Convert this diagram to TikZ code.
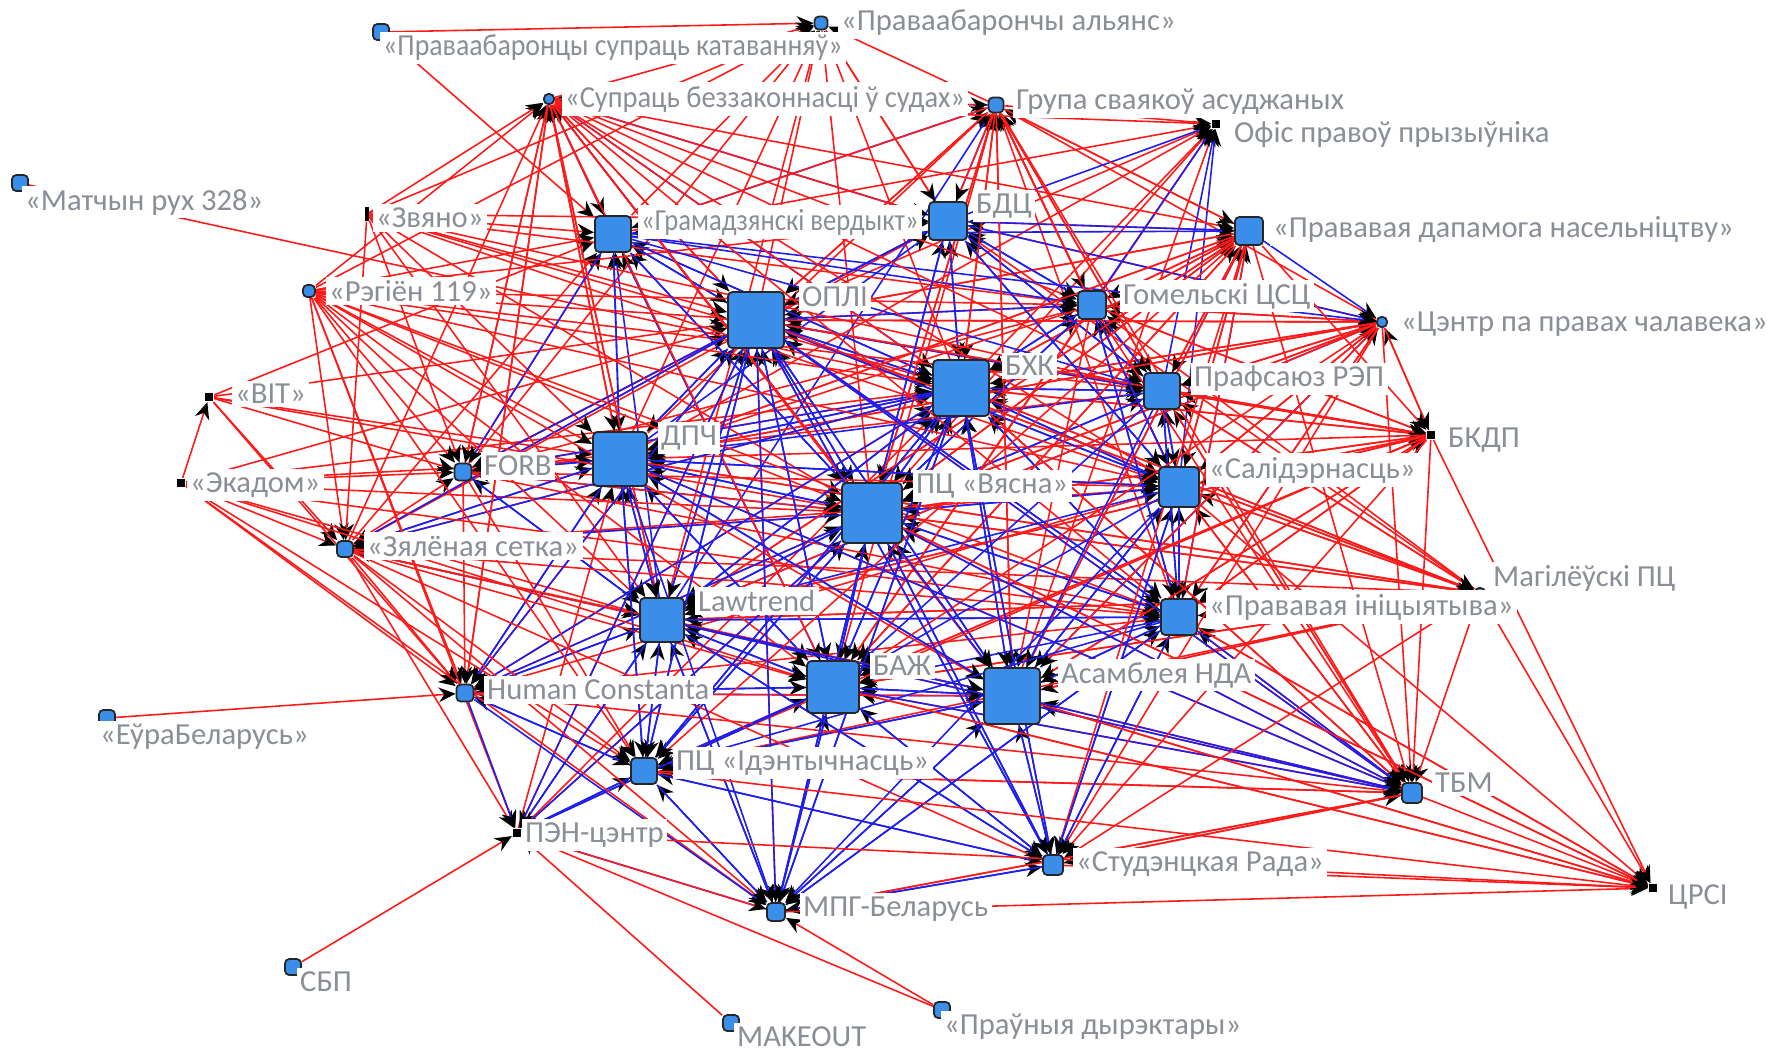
\documentclass[tikz,border=0pt]{standalone}
\usepackage{graphicx}
\usepackage{fontspec}
\setmainfont{Carlito}
\usetikzlibrary{arrows.meta, positioning, calc}
\pgfdeclarelayer{edges}
\pgfsetlayers{edges,main}
\definecolor{nodeblue}{HTML}{3A8DE8}
\definecolor{lblgray}{HTML}{8A8E96}
\definecolor{tiered}{HTML}{FF1A1A}
\definecolor{tieblue}{HTML}{1E1EEE}

\begin{document}
\begin{tikzpicture}[
    org/.style={draw=black!85, fill=nodeblue, rounded corners=1.2pt, inner sep=0pt, line width=0.5pt},
    dot/.style={fill=black, inner sep=0pt, minimum size=2.5pt},
    lbl/.style={fill=white, text=lblgray, inner sep=1pt, anchor=west, font=\fontsize{8.7}{10}\selectfont},
    rtie/.style={tiered, line width=0.45pt, -{Stealth[black, length=4.8pt, width=4.2pt]}},
    btie/.style={tieblue, line width=0.45pt, -{Stealth[black, length=4.8pt, width=4.2pt]}},
]
\useasboundingbox (0,0) rectangle (17.69,-10.55);

% ── Organisations ──
\node[org, minimum size=0.13cm] (alyans) at (8.21,-0.23) {};
\node[org, minimum size=0.16cm] (katav) at (3.81,-0.32) {};
\node[org, minimum size=0.10cm] (sudah) at (5.49,-0.99) {};
\node[org, minimum size=0.15cm] (grupa) at (9.96,-1.05) {};
\node[dot] (ofis) at (12.16,-1.24) {};
\node[org, minimum size=0.16cm] (matchyn) at (0.20,-1.83) {};
\node[dot, minimum width=1pt, minimum height=4pt] (zvyano) at (3.67,-2.14) {};
\node[org, minimum size=0.36cm] (verdykt) at (6.13,-2.34) {};
\node[org, minimum size=0.38cm] (bdc) at (9.48,-2.21) {};
\node[org, minimum size=0.28cm] (dapam) at (12.49,-2.31) {};
\node[org, minimum size=0.12cm] (region) at (3.09,-2.91) {};
\node[org, minimum size=0.56cm] (opli) at (7.56,-3.20) {};
\node[org, minimum size=0.28cm] (gomel) at (10.92,-3.05) {};
\node[org, minimum size=0.10cm] (centr) at (13.82,-3.22) {};
\node[org, minimum size=0.56cm] (bhk) at (9.61,-3.88) {};
\node[org, minimum size=0.36cm] (rep) at (11.62,-3.91) {};
\node[dot] (bit) at (2.09,-3.97) {};
\node[dot] (bkdp) at (14.31,-4.35) {};
\node[org, minimum size=0.54cm] (dpch) at (6.20,-4.59) {};
\node[org, minimum size=0.17cm] (forb) at (4.63,-4.72) {};
\node[dot] (ekadom) at (1.81,-4.83) {};
\node[org, minimum size=0.60cm] (vyasna) at (8.72,-5.13) {};
\node[org, minimum size=0.40cm] (salid) at (11.79,-4.87) {};
\node[org, minimum size=0.16cm] (zyal) at (3.45,-5.49) {};
\node[org, minimum size=0.10cm] (magil) at (14.80,-5.93) {};
\node[org, minimum size=0.44cm] (lawtr) at (6.62,-6.20) {};
\node[org, minimum size=0.36cm] (inic) at (11.79,-6.17) {};
\node[org, minimum size=0.17cm] (hc) at (4.65,-6.93) {};
\node[org, minimum size=0.52cm] (baj) at (8.33,-6.87) {};
\node[org, minimum size=0.56cm] (asamb) at (10.12,-6.96) {};
\node[org, minimum size=0.16cm] (eurab) at (1.07,-7.18) {};
\node[org, minimum size=0.26cm] (ident) at (6.44,-7.71) {};
\node[org, minimum size=0.20cm] (tbm) at (14.12,-7.93) {};
\node[dot] (pen) at (5.17,-8.33) {};
\node[org, minimum size=0.20cm] (rada) at (10.53,-8.65) {};
\node[org, minimum size=0.18cm] (mpg) at (7.76,-9.12) {};
\node[dot] (crsi) at (16.53,-8.88) {};
\node[org, minimum size=0.16cm] (sbp) at (2.93,-9.67) {};
\node[org, minimum size=0.16cm] (makeout) at (7.31,-10.23) {};
\node[org, minimum size=0.16cm] (dyrekt) at (9.42,-10.10) {};

% ── Ties (red and blue), arrow at the receiving organisation ──
\begin{pgfonlayer}{edges}
\foreach \s in {katav,zvyano,sudah,verdykt,opli,dpch,bhk,vyasna,grupa,forb,lawtr,region,bdc} \draw[rtie] (\s) -- (alyans);
\foreach \s in {region,zvyano,opli,dpch,forb,lawtr,hc,zyal} \draw[rtie] (\s) -- (sudah);
\foreach \s in {verdykt,bdc,grupa,vyasna,bhk} \draw[btie] (\s) -- (sudah);
\foreach \s in {sudah,opli,bhk,vyasna,gomel,rep,dapam,centr,dpch,baj,asamb,salid,inic} \draw[rtie] (\s) -- (grupa);
\foreach \s in {bdc,verdykt,lawtr} \draw[btie] (\s) -- (grupa);
\foreach \s in {verdykt,opli,bhk,vyasna,dpch,baj,sudah,asamb,grupa} \draw[rtie] (\s) -- (ofis);
\foreach \s in {gomel,rep,bdc,salid} \draw[btie] (\s) -- (ofis);
\foreach \s in {region,zvyano,katav,sudah,grupa,forb,zyal,bit} \draw[rtie] (\s) -- (verdykt);
\foreach \s in {opli,bhk,vyasna,dpch,bdc,lawtr,baj} \draw[btie] (\s) -- (verdykt);
\foreach \s in {region,zvyano,sudah,grupa,dapam,centr,forb,zyal,magil,alyans} \draw[rtie] (\s) -- (bdc);
\foreach \s in {opli,bhk,vyasna,verdykt,gomel,dpch,rep,salid} \draw[btie] (\s) -- (bdc);
\foreach \s in {sudah,grupa,opli,bhk,vyasna,rep,gomel,salid,dpch,lawtr,baj} \draw[rtie] (\s) -- (dapam);
\foreach \s in {bdc,inic,asamb,verdykt} \draw[btie] (\s) -- (dapam);
\foreach \s in {region,zvyano,sudah,bit,forb,zyal,ekadom,grupa,dapam,centr,gomel,rep,bkdp,magil,tbm,hc,pen,mpg} \draw[rtie] (\s) -- (opli);
\foreach \s in {verdykt,bdc,bhk,vyasna,dpch,lawtr,baj,asamb,salid,inic,ident,rada} \draw[btie] (\s) -- (opli);
\foreach \s in {region,sudah,grupa,dapam,centr,bkdp,magil,zvyano,forb} \draw[rtie] (\s) -- (gomel);
\foreach \s in {opli,bhk,vyasna,bdc,rep,salid,verdykt,inic} \draw[btie] (\s) -- (gomel);
\foreach \s in {rep,gomel,bhk,salid,inic,opli,vyasna,dpch,bkdp} \draw[rtie] (\s) -- (centr);
\foreach \s in {bdc,verdykt,lawtr,dapam,asamb} \draw[btie] (\s) -- (centr);
\foreach \s in {matchyn,region,zvyano,sudah,forb,zyal,dapam,centr,bkdp,magil,tbm,hc,pen,grupa,ekadom} \draw[rtie] (\s) -- (bhk);
\foreach \s in {opli,vyasna,dpch,verdykt,bdc,gomel,rep,salid,inic,lawtr,baj,asamb,ident,mpg,rada} \draw[btie] (\s) -- (bhk);
\foreach \s in {region,zvyano,sudah,dapam,centr,bkdp,magil,grupa,tbm,forb} \draw[rtie] (\s) -- (rep);
\foreach \s in {opli,bhk,vyasna,gomel,salid,inic,bdc,verdykt} \draw[btie] (\s) -- (rep);
\draw[rtie] (ekadom) -- (bit);
\foreach \s in {rep,salid,inic,gomel,bhk,vyasna,asamb,centr,dapam,lawtr,baj,opli} \draw[rtie] (\s) -- (bkdp);
\foreach \s in {region,zvyano,ekadom,bit,sudah,dapam,centr,bkdp,magil,tbm,gomel,pen} \draw[rtie] (\s) -- (dpch);
\foreach \s in {opli,bhk,vyasna,verdykt,forb,zyal,lawtr,baj,asamb,hc,ident,salid,rep} \draw[btie] (\s) -- (dpch);
\foreach \s in {region,zvyano,ekadom,bit,zyal,sudah} \draw[rtie] (\s) -- (forb);
\foreach \s in {opli,bhk,vyasna,dpch,lawtr,verdykt} \draw[btie] (\s) -- (forb);
\foreach \s in {region,zvyano,bit,ekadom,zyal,forb,sudah,grupa,dapam,centr,bkdp,magil,tbm,pen,hc,crsi} \draw[rtie] (\s) -- (vyasna);
\foreach \s in {opli,bhk,dpch,verdykt,bdc,gomel,rep,salid,inic,lawtr,baj,asamb,ident,mpg,rada} \draw[btie] (\s) -- (vyasna);
\foreach \s in {region,zvyano,sudah,zyal,forb,dapam,centr,bkdp,magil,tbm,grupa,hc} \draw[rtie] (\s) -- (salid);
\foreach \s in {opli,bhk,vyasna,dpch,rep,gomel,inic,asamb,bdc,rada} \draw[btie] (\s) -- (salid);
\foreach \s in {ekadom,region,bit,zvyano} \draw[rtie] (\s) -- (zyal);
\foreach \s in {opli,dpch,vyasna,lawtr,bhk} \draw[btie] (\s) -- (zyal);
\foreach \s in {salid,inic,rep,vyasna,bhk,asamb,baj,opli,dpch,lawtr,zyal} \draw[rtie] (\s) -- (magil);
\foreach \s in {region,zvyano,ekadom,zyal,sudah,bkdp,magil,tbm,centr,dapam} \draw[rtie] (\s) -- (lawtr);
\foreach \s in {opli,bhk,vyasna,dpch,forb,hc,baj,asamb,ident,mpg,inic,salid,rada,pen} \draw[btie] (\s) -- (lawtr);
\foreach \s in {region,zyal,forb,ekadom,dapam,centr,bkdp,magil,tbm,crsi,hc,sudah} \draw[rtie] (\s) -- (inic);
\foreach \s in {opli,bhk,vyasna,salid,asamb,rep,gomel,rada,mpg,lawtr} \draw[btie] (\s) -- (inic);
\foreach \s in {eurab,region,ekadom,zyal,bit,forb,sudah} \draw[rtie] (\s) -- (hc);
\foreach \s in {opli,bhk,vyasna,dpch,lawtr,baj,ident,asamb} \draw[btie] (\s) -- (hc);
\foreach \s in {region,sudah,ekadom,zyal,dapam,centr,bkdp,magil,tbm,crsi,gomel} \draw[rtie] (\s) -- (baj);
\foreach \s in {opli,bhk,vyasna,dpch,lawtr,asamb,inic,salid,ident,mpg,rada,hc,pen,rep} \draw[btie] (\s) -- (baj);
\foreach \s in {region,sudah,zyal,dapam,centr,bkdp,magil,tbm,gomel,hc,grupa,crsi} \draw[rtie] (\s) -- (asamb);
\foreach \s in {opli,bhk,vyasna,dpch,lawtr,baj,inic,salid,rep,ident,mpg,rada} \draw[btie] (\s) -- (asamb);
\foreach \s in {region,zyal,ekadom,forb,tbm,magil,bkdp,dapam} \draw[rtie] (\s) -- (ident);
\foreach \s in {opli,bhk,vyasna,dpch,lawtr,baj,asamb,hc,pen,mpg,rada,inic} \draw[btie] (\s) -- (ident);
\foreach \s in {bhk,salid,rep,gomel,centr,dapam,magil,bkdp,grupa,ident,rada,mpg,hc} \draw[rtie] (\s) -- (tbm);
\foreach \s in {opli,vyasna,dpch,lawtr,baj,asamb,inic} \draw[btie] (\s) -- (tbm);
\foreach \s in {sbp,makeout,dyrekt,zyal,region} \draw[rtie] (\s) -- (pen);
\foreach \s in {lawtr,ident,hc,baj,vyasna,opli,mpg} \draw[btie] (\s) -- (pen);
\foreach \s in {tbm,magil,bkdp,centr,dapam,zyal} \draw[rtie] (\s) -- (rada);
\foreach \s in {opli,bhk,vyasna,asamb,baj,inic,salid,lawtr,mpg,ident} \draw[btie] (\s) -- (rada);
\foreach \s in {pen,dyrekt,zyal,ekadom,tbm} \draw[rtie] (\s) -- (mpg);
\foreach \s in {opli,bhk,vyasna,dpch,lawtr,baj,asamb,ident,hc,rada,inic,salid} \draw[btie] (\s) -- (mpg);
\foreach \s in {rada,mpg,tbm,asamb,inic,salid,baj,ident,vyasna,magil,bkdp,pen} \draw[rtie] (\s) -- (crsi);
\end{pgfonlayer}

% ── Names ──
\node[lbl] (alyans-l) at (8.37,-0.23) {«Праваабарончы альянс»};
\node[lbl] (katav-l) at (3.79,-0.48) {\scalebox{0.91}[1]{«Праваабаронцы супраць катаванняў»}};
\node[lbl] (sudah-l) at (5.61,-0.99) {\scalebox{0.93}[1]{«Супраць беззаконнасці ў судах»}};
\node[lbl] (grupa-l) at (10.12,-1.02) {Група сваякоў асуджаных};
\node[lbl] (ofis-l) at (12.30,-1.34) {Офіс правоў прызыўніка};
\node[lbl] (matchyn-l) at (0.21,-2.02) {«Матчын рух 328»};
\node[lbl] (zvyano-l) at (3.72,-2.18) {«Звяно»};
\node[lbl] (verdykt-l) at (6.37,-2.22) {\scalebox{0.87}[1]{«Грамадзянскі вердыкт»}};
\node[lbl] (bdc-l) at (9.72,-2.06) {БДЦ};
\node[lbl] (dapam-l) at (12.69,-2.29) {«Прававая дапамога насельніцтву»};
\node[lbl] (region-l) at (3.25,-2.91) {«Рэгіён 119»};
\node[lbl] (opli-l) at (7.98,-2.97) {ОПЛІ};
\node[lbl] (gomel-l) at (11.19,-2.96) {Гомельскі ЦСЦ};
\node[lbl] (centr-l) at (13.97,-3.24) {«Цэнтр па правах чалавека»};
\node[lbl] (bhk-l) at (10.01,-3.66) {БХК};
\node[lbl] (rep-l) at (11.90,-3.79) {Прафсаюз РЭП};
\node[lbl] (bit-l) at (2.31,-3.94) {«BIT»};
\node[lbl] (bkdp-l) at (14.44,-4.40) {БКДП};
\node[lbl] (dpch-l) at (6.57,-4.38) {ДПЧ};
\node[lbl] (forb-l) at (4.80,-4.66) {FORB};
\node[lbl] (ekadom-l) at (1.86,-4.85) {«Экадом»};
\node[lbl] (vyasna-l) at (9.12,-4.86) {ПЦ «Вясна»};
\node[lbl] (salid-l) at (12.05,-4.70) {«Салідэрнасць»};
\node[lbl] (zyal-l) at (3.63,-5.46) {«Зялёная сетка»};
\node[lbl] (magil-l) at (14.89,-5.78) {Магілёўскі ПЦ};
\node[lbl] (lawtr-l) at (6.94,-6.01) {Lawtrend};
\node[lbl] (inic-l) at (12.05,-6.07) {«Прававая ініцыятыва»};
\node[lbl] (hc-l) at (4.83,-6.90) {Human Constanta};
\node[lbl] (baj-l) at (8.69,-6.66) {БАЖ};
\node[lbl] (asamb-l) at (10.57,-6.75) {Асамблея НДА};
\node[lbl] (eurab-l) at (0.96,-7.37) {«ЕўраБеларусь»};
\node[lbl] (ident-l) at (6.72,-7.63) {ПЦ «Ідэнтычнасць»};
\node[lbl] (tbm-l) at (14.31,-7.83) {ТБМ};
\node[lbl] (pen-l) at (5.21,-8.35) {ПЭН-цэнтр};
\node[lbl] (rada-l) at (10.72,-8.64) {«Студэнцкая Рада»};
\node[lbl] (mpg-l) at (7.99,-9.09) {МПГ-Беларусь};
\node[lbl] (crsi-l) at (16.64,-8.97) {ЦРСІ};
\node[lbl] (sbp-l) at (2.96,-9.82) {СБП};
\node[lbl] (makeout-l) at (7.33,-10.37) {MAKEOUT};
\node[lbl] (dyrekt-l) at (9.40,-10.27) {«Праўныя дырэктары»};

\end{tikzpicture}
\end{document}
